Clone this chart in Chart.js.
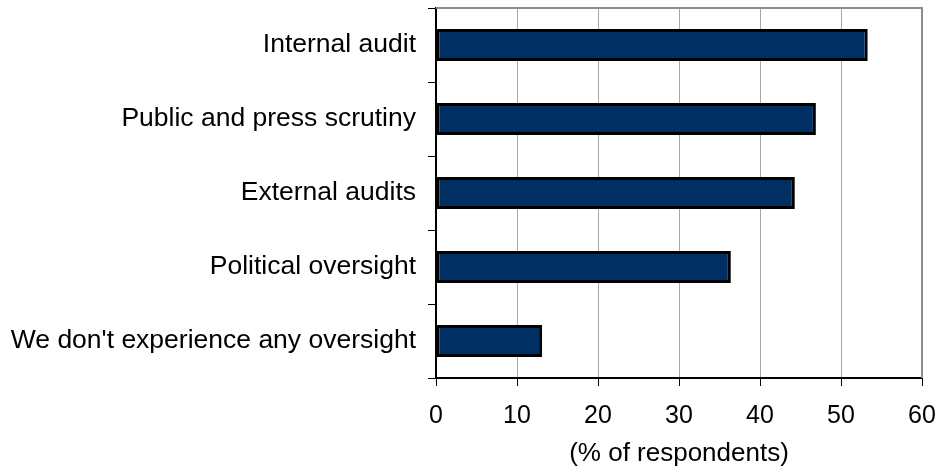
<!DOCTYPE html>
<html>
<head>
<meta charset="utf-8">
<script src="https://cdn.jsdelivr.net/npm/chart.js@4/dist/chart.umd.min.js"></script>
<style>
  html, body { margin: 0; padding: 0; background: #fff; }
  #wrap { width: 939px; height: 470px; }
</style>
</head>
<body>
<div id="wrap"><canvas id="myChart" width="939" height="470"></canvas></div>
<script>
const categories = [
  'Internal audit',
  'Public and press scrutiny',
  'External audits',
  'Political oversight',
  "We don't experience any oversight"
];
const shares = [53.3, 46.9, 44.3, 36.4, 13.1];
const xTicks = [0, 10, 20, 30, 40, 50, 60];
const axisTitle = '(% of respondents)';

const FONT = '"Liberation Sans", Arial, sans-serif';

// grey frame on the top and right of the plot area
const frame = {
  id: 'frame',
  afterDatasetsDraw(chart) {
    const {ctx, chartArea: {top, left, right, bottom}} = chart;
    ctx.save();
    ctx.strokeStyle = '#8c8c8c';
    ctx.lineWidth = 2;
    ctx.beginPath();
    ctx.moveTo(left, top);
    ctx.lineTo(right, top);
    ctx.lineTo(right, bottom);
    ctx.stroke();
    ctx.restore();
  }
};

// labels may hang outside the plot; don't let them shrink it
const noScalePadding = (axis) => {
  axis.paddingTop = 0;
  axis.paddingBottom = 0;
  axis.paddingLeft = 0;
  axis.paddingRight = 0;
};

const data = {
  labels: categories,
  datasets: [{
    data: shares,
    backgroundColor: '#003063',
    borderColor: '#000000',
    borderWidth: 3,
    borderSkipped: false,
    categoryPercentage: 1,
    barPercentage: 0.43
  }]
};

const config = {
  type: 'bar',
  data,
  options: {
    indexAxis: 'y',
    responsive: false,
    animation: false,
    layout: {
      autoPadding: false,
      padding: { top: 8, right: 17, left: 0, bottom: 0 }
    },
    plugins: {
      legend: { display: false },
      tooltip: { enabled: false }
    },
    scales: {
      x: {
        min: 0,
        max: 60,
        afterBuildTicks(axis) {
          axis.ticks = xTicks.map(v => ({ value: v }));
        },
        afterFit(axis) {
          axis.height = 92;
          noScalePadding(axis);
        },
        grid: {
          color: '#a6a6a6',
          lineWidth: 1,
          tickColor: '#000000',
          tickLength: 8,
          drawTicks: true
        },
        border: { color: '#000000', width: 2 },
        ticks: {
          color: '#000000',
          font: { family: FONT, size: 25 },
          padding: 15
        },
        title: {
          display: true,
          text: axisTitle,
          color: '#000000',
          font: { family: FONT, size: 26 },
          padding: { top: 2, bottom: 1 }
        }
      },
      y: {
        afterFit(axis) {
          axis.width = 436;
          noScalePadding(axis);
        },
        grid: {
          offset: true,
          drawOnChartArea: false,
          drawTicks: true,
          tickLength: 8,
          tickColor: '#000000'
        },
        border: { color: '#000000', width: 2 },
        ticks: {
          color: '#000000',
          font: { family: FONT, size: 26.5 },
          padding: 12
        }
      }
    }
  },
  plugins: [frame]
};

const myChart = new Chart(document.getElementById('myChart'), config);
</script>
</body>
</html>
